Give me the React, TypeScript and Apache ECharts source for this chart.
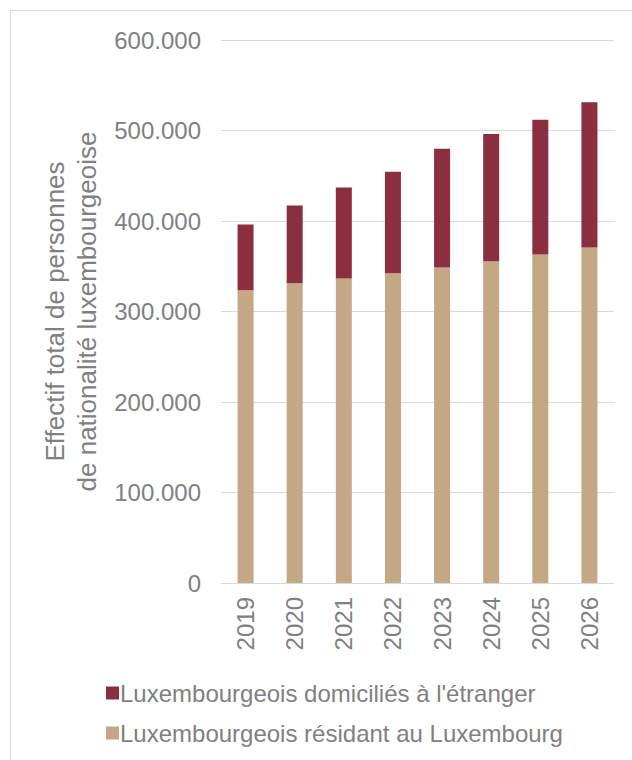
import React, { useEffect, useRef } from "react";
import * as echarts from "echarts";

const years = ["2019", "2020", "2021", "2022", "2023", "2024", "2025", "2026"];
const residents = [323500, 331300, 336500, 342300, 348600, 355600, 363000, 370700];
const abroad = [72500, 85700, 100500, 112200, 131200, 140400, 148800, 160600];
const yTicks = [0, 100000, 200000, 300000, 400000, 500000, 600000];

const grey = "#808080";
const font = "'Liberation Sans', Arial, sans-serif";

function fmt(v: number): string {
  return String(Math.round(v)).replace(/\B(?=(\d{3})+(?!\d))/g, ".");
}

export default function App() {
  const ref = useRef<HTMLDivElement>(null);
  useEffect(() => {
    if (!ref.current) return;
    const chart = echarts.init(ref.current, undefined, { renderer: "svg" });
    chart.setOption({
      animation: false,
      backgroundColor: "#ffffff",
      textStyle: { fontFamily: font },
      graphic: [
        {
          type: "rect",
          shape: { x: 10.5, y: 10.5, width: 700, height: 800 },
          style: { fill: "none", stroke: "#d9d9d9", lineWidth: 1 },
          silent: true,
          z: -1,
        },
      ],
      grid: { left: 221, right: 18, top: 40, bottom: 177, containLabel: false },
      legend: {
        orient: "vertical",
        left: 101,
        top: 676,
        itemWidth: 13,
        itemHeight: 13,
        itemGap: 16,
        icon: "rect",
        textStyle: { color: grey, fontSize: 24, fontFamily: font, padding: [0, 0, 0, -4] },
        data: ["Luxembourgeois domiciliés à l'étranger", "Luxembourgeois résidant au Luxembourg"],
      },
      xAxis: {
        type: "category",
        data: years,
        axisLine: { lineStyle: { color: "#d9d9d9", width: 1 } },
        axisTick: { show: false },
        axisLabel: { rotate: 90, color: grey, fontSize: 24, margin: 14, fontFamily: font },
      },
      yAxis: {
        type: "value",
        min: 0,
        max: 600000,
        interval: 100000,
        name: "Effectif total de personnes\nde nationalité luxembourgeoise",
        nameLocation: "middle",
        nameRotate: 90,
        nameGap: 109,
        nameTextStyle: { color: grey, fontSize: 26, lineHeight: 32, fontFamily: font },
        axisLine: { show: false },
        axisTick: { show: false },
        splitLine: { lineStyle: { color: "#d9d9d9", width: 1 } },
        axisLabel: {
          color: grey,
          fontSize: 24,
          margin: 20,
          fontFamily: font,
          formatter: (v: number) => (yTicks.includes(v) ? fmt(v) : ""),
        },
      },
      series: [
        {
          name: "Luxembourgeois résidant au Luxembourg",
          type: "bar",
          stack: "total",
          data: residents,
          barWidth: 16,
          itemStyle: { color: "#c4a886" },
        },
        {
          name: "Luxembourgeois domiciliés à l'étranger",
          type: "bar",
          stack: "total",
          data: abroad,
          barWidth: 16,
          itemStyle: { color: "#8a2e40" },
        },
      ],
    });
    return () => chart.dispose();
  }, []);
  return (
    <div
      ref={ref}
      style={{ position: "fixed", left: 0, top: 0, width: 632, height: 760 }}
    />
  );
}
